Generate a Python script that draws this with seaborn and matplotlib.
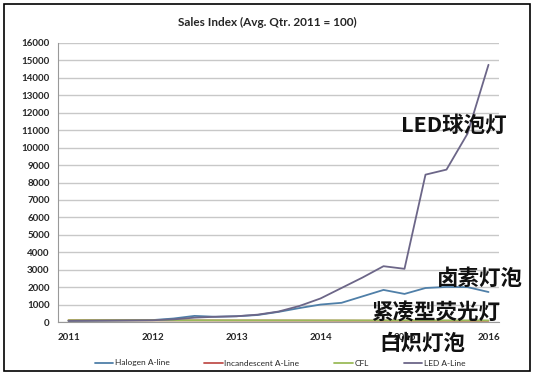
import pandas as pd
import matplotlib
matplotlib.use("Agg")
import matplotlib.pyplot as plt
import seaborn as sns
from matplotlib.patches import Rectangle

# quarterly sales index, Q1 2011 .. Q1 2016
quarters = [f"{y} Q{q}" for y in range(2011, 2016) for q in range(1, 5)] + ["2016 Q1"]
year_labels = ["2011", "2012", "2013", "2014", "2015", "2016"]

halogen = [70, 80, 90, 100, 110, 200, 350, 300, 330, 400, 580, 800, 1000,
           1100, 1470, 1840, 1610, 1950, 2010, 2000, 1720]
incandescent = [100, 100, 98, 97, 95, 93, 92, 90, 88, 87, 85, 84, 82, 80,
                78, 76, 75, 73, 72, 70, 68]
cfl = [100, 100, 100, 100, 100, 98, 97, 96, 95, 95, 94, 93, 92, 92, 91,
       90, 90, 89, 88, 88, 87]
led = [60, 70, 80, 90, 100, 150, 250, 300, 330, 420, 600, 920, 1350, 1950,
       2550, 3200, 3050, 8450, 8740, 10800, 14750]

series_names = ["Halogen A-line", "Incandescent A-Line", "CFL", "LED A-Line"]
series_values = [halogen, incandescent, cfl, led]
colors = ["#4f7fa8", "#c0504d", "#9bbb59", "#6c6688"]

annotations = [("LED球泡灯", 401, 125), ("卤素灯泡", 437, 278),
               ("紧凑型荧光灯", 371, 313), ("白炽灯泡", 379, 343)]

rows = []
for name, vals in zip(series_names, series_values):
    for i, v in enumerate(vals):
        rows.append({"idx": i, "quarter": quarters[i], "series": name, "value": v})
df = pd.DataFrame(rows)

sns.set_style("white")
plt.rcParams["font.family"] = ["Lato", "DejaVu Sans"]

W, H = 534, 378
fig = plt.figure(figsize=(W / 100, H / 100), dpi=100)
ax = fig.add_axes([58 / W, 1 - 322 / H, (499 - 58) / W, (322 - 43) / H])

sns.lineplot(data=df, x="idx", y="value", hue="series", hue_order=series_names,
             palette=colors, linewidth=1.3, ax=ax, legend=True)

ax.set_xlim(-0.5, len(quarters) - 0.5)
ax.set_ylim(0, 16000)
ax.set_yticks(range(0, 16001, 1000))
ax.set_yticklabels([str(v) for v in range(0, 16001, 1000)], fontsize=7,
                   fontweight="bold")
ax.set_xticks(range(0, len(quarters), 4))
ax.set_xticklabels(year_labels, fontsize=7, fontweight="bold")
ax.set_xticks([i - 0.5 for i in range(len(quarters) + 1)], minor=True)
ax.tick_params(axis="x", which="major", length=0, pad=8)
ax.tick_params(axis="x", which="minor", length=3, color="#999999", direction="out")
ax.tick_params(axis="y", length=3, color="#999999", direction="out", pad=3)
ax.set_xlabel("")
ax.set_ylabel("")
ax.grid(axis="y", color="#c8c8c8", linewidth=1)
ax.set_axisbelow(True)
for s in ["top", "right"]:
    ax.spines[s].set_visible(False)
for s in ["left", "bottom"]:
    ax.spines[s].set_color("#999999")
    ax.spines[s].set_linewidth(0.8)

leg = ax.legend(loc="center", bbox_to_anchor=(280 / W, 1 - 363 / H),
                bbox_transform=fig.transFigure, ncol=4, frameon=False,
                fontsize=6, handlelength=2.2, handletextpad=0.2,
                columnspacing=4.2)

fig.text(267 / W, 1 - 22 / H, "Sales Index (Avg. Qtr. 2011 = 100)",
         ha="center", va="center", fontsize=8.5, fontweight="bold")

for text, x, y in annotations:
    fig.text(x / W, 1 - y / H, text, ha="left", va="center", fontsize=15.5,
             family=["Noto Sans CJK SC", "DejaVu Sans"], fontweight="bold",
             color="#111111")

fig.patches.append(Rectangle((4 / W, 1 - 371 / H), 526 / W, 367 / H,
                             transform=fig.transFigure, fill=False,
                             edgecolor="black", linewidth=1.2))

fig.savefig("out.png", dpi=100)
